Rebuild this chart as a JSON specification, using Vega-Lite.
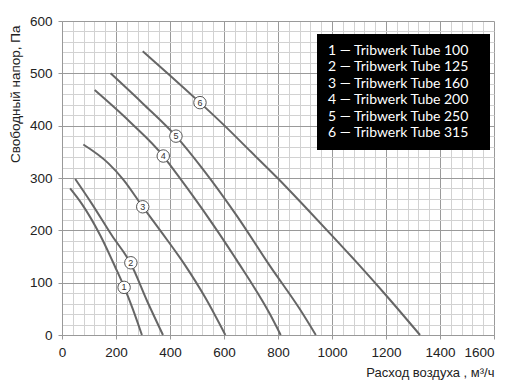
{
  "$schema": "https://vega.github.io/schema/vega-lite/v6.json",
  "autosize": "none",
  "width": 432,
  "height": 314,
  "padding": {"left": 62, "top": 21, "right": 19, "bottom": 56},
  "background": "white",
  "config": {
    "view": {"stroke": null},
    "font": "Liberation Sans"
  },
  "datasets": {
    "curves": [
      {"model": "1 — Tribwerk Tube 100", "flow": 30, "pressure": 280},
      {"model": "1 — Tribwerk Tube 100", "flow": 74, "pressure": 250},
      {"model": "1 — Tribwerk Tube 100", "flow": 142, "pressure": 190},
      {"model": "1 — Tribwerk Tube 100", "flow": 197, "pressure": 130},
      {"model": "1 — Tribwerk Tube 100", "flow": 230, "pressure": 92},
      {"model": "1 — Tribwerk Tube 100", "flow": 262, "pressure": 50},
      {"model": "1 — Tribwerk Tube 100", "flow": 296, "pressure": 0},
      {"model": "2 — Tribwerk Tube 125", "flow": 49, "pressure": 298},
      {"model": "2 — Tribwerk Tube 125", "flow": 109, "pressure": 252},
      {"model": "2 — Tribwerk Tube 125", "flow": 185, "pressure": 190},
      {"model": "2 — Tribwerk Tube 125", "flow": 255, "pressure": 136},
      {"model": "2 — Tribwerk Tube 125", "flow": 316, "pressure": 64},
      {"model": "2 — Tribwerk Tube 125", "flow": 374, "pressure": 0},
      {"model": "3 — Tribwerk Tube 160", "flow": 79, "pressure": 364},
      {"model": "3 — Tribwerk Tube 160", "flow": 172, "pressure": 328},
      {"model": "3 — Tribwerk Tube 160", "flow": 227, "pressure": 297},
      {"model": "3 — Tribwerk Tube 160", "flow": 299, "pressure": 245},
      {"model": "3 — Tribwerk Tube 160", "flow": 369, "pressure": 196},
      {"model": "3 — Tribwerk Tube 160", "flow": 455, "pressure": 134},
      {"model": "3 — Tribwerk Tube 160", "flow": 530, "pressure": 72},
      {"model": "3 — Tribwerk Tube 160", "flow": 605, "pressure": 0},
      {"model": "4 — Tribwerk Tube 200", "flow": 121, "pressure": 468},
      {"model": "4 — Tribwerk Tube 200", "flow": 250, "pressure": 408},
      {"model": "4 — Tribwerk Tube 200", "flow": 375, "pressure": 342},
      {"model": "4 — Tribwerk Tube 200", "flow": 400, "pressure": 325},
      {"model": "4 — Tribwerk Tube 200", "flow": 523, "pressure": 238},
      {"model": "4 — Tribwerk Tube 200", "flow": 647, "pressure": 143},
      {"model": "4 — Tribwerk Tube 200", "flow": 770, "pressure": 40},
      {"model": "4 — Tribwerk Tube 200", "flow": 810, "pressure": 0},
      {"model": "5 — Tribwerk Tube 250", "flow": 180, "pressure": 500},
      {"model": "5 — Tribwerk Tube 250", "flow": 300, "pressure": 442},
      {"model": "5 — Tribwerk Tube 250", "flow": 422, "pressure": 380},
      {"model": "5 — Tribwerk Tube 250", "flow": 523, "pressure": 316},
      {"model": "5 — Tribwerk Tube 250", "flow": 647, "pressure": 228},
      {"model": "5 — Tribwerk Tube 250", "flow": 770, "pressure": 132},
      {"model": "5 — Tribwerk Tube 250", "flow": 880, "pressure": 50},
      {"model": "5 — Tribwerk Tube 250", "flow": 940, "pressure": 0},
      {"model": "6 — Tribwerk Tube 315", "flow": 299, "pressure": 542},
      {"model": "6 — Tribwerk Tube 315", "flow": 400, "pressure": 496},
      {"model": "6 — Tribwerk Tube 315", "flow": 511, "pressure": 444},
      {"model": "6 — Tribwerk Tube 315", "flow": 600, "pressure": 401},
      {"model": "6 — Tribwerk Tube 315", "flow": 700, "pressure": 350},
      {"model": "6 — Tribwerk Tube 315", "flow": 800, "pressure": 299},
      {"model": "6 — Tribwerk Tube 315", "flow": 900, "pressure": 245},
      {"model": "6 — Tribwerk Tube 315", "flow": 1000, "pressure": 190},
      {"model": "6 — Tribwerk Tube 315", "flow": 1100, "pressure": 134},
      {"model": "6 — Tribwerk Tube 315", "flow": 1200, "pressure": 76},
      {"model": "6 — Tribwerk Tube 315", "flow": 1326, "pressure": 0}
    ],
    "markers": [
      {"n": "1", "flow": 230, "pressure": 91},
      {"n": "2", "flow": 255, "pressure": 138},
      {"n": "3", "flow": 299, "pressure": 245},
      {"n": "4", "flow": 375, "pressure": 342},
      {"n": "5", "flow": 422, "pressure": 380},
      {"n": "6", "flow": 511, "pressure": 444}
    ]
  },
  "encoding": {
    "x": {
      "field": "flow", "type": "quantitative",
      "scale": {"domain": [0, 1600], "nice": false, "zero": false},
      "axis": {
        "title": "Расход воздуха , м³/ч",
        "titleAnchor": "end",
        "titleFontSize": 13,
        "titleFontWeight": "normal",
        "titleColor": "#222",
        "titlePadding": 8,
        "tickCount": 100,
        "values": [0,40,80,120,160,200,240,280,320,360,400,440,480,520,560,600,640,680,720,760,800,840,880,920,960,1000,1040,1080,1120,1160,1200,1240,1280,1320,1360,1400,1440,1480,1520,1560,1600],
        "labelExpr": "datum.value % 200 === 0 ? datum.label : ''",
        "format": "d",
        "labelOverlap": false,
        "labelBound": false,
        "labelFontSize": 13.5,
        "labelColor": "#222",
        "labelPadding": 6,
        "labelAlign": {"condition": {"test": "datum.value === 1600", "value": "right"}, "value": "center"},
        "tickSize": 4,
        "tickColor": {"condition": {"test": "datum.value % 200 === 0", "value": "#999"}, "value": "transparent"},
        "domainColor": "#999",
        "grid": true,
        "gridColor": {"condition": {"test": "datum.value % 200 === 0", "value": "#9a9a9a"}, "value": "#d2d2d2"},
        "gridWidth": 1
      }
    },
    "y": {
      "field": "pressure", "type": "quantitative",
      "scale": {"domain": [0, 600], "nice": false},
      "axis": {
        "title": "Свободный  напор, Па",
        "titleAnchor": "end",
        "titleY": 4,
        "titleFontSize": 13.5,
        "titleFontWeight": "normal",
        "titleColor": "#222",
        "titlePadding": 7,
        "tickCount": 100,
        "values": [0,20,40,60,80,100,120,140,160,180,200,220,240,260,280,300,320,340,360,380,400,420,440,460,480,500,520,540,560,580,600],
        "labelExpr": "datum.value % 100 === 0 ? datum.label : ''",
        "labelOverlap": false,
        "labelBound": false,
        "labelFontSize": 13.5,
        "labelColor": "#222",
        "labelPadding": 6,
        "tickSize": 4,
        "tickColor": {"condition": {"test": "datum.value % 100 === 0", "value": "#999"}, "value": "transparent"},
        "domainColor": "#999",
        "grid": true,
        "gridColor": {"condition": {"test": "datum.value % 100 === 0", "value": "#9a9a9a"}, "value": "#d2d2d2"},
        "gridWidth": 1
      }
    }
  },
  "layer": [
    {
      "data": {"name": "curves"},
      "mark": {"type": "line", "interpolate": "monotone", "strokeWidth": 2},
      "encoding": {
        "detail": {"field": "model", "type": "nominal"},
        "color": {
          "field": "model", "type": "nominal",
          "scale": {"range": ["#666666", "#666666", "#666666", "#666666", "#666666", "#666666"]},
          "legend": {
            "title": null,
            "orient": "none",
            "legendX": 255,
            "legendY": 13,
            "fillColor": "black",
            "padding": 10,
            "symbolType": "circle",
            "symbolSize": 1,
            "symbolOpacity": 0,
            "symbolStrokeWidth": 0,
            "labelOffset": -13,
            "labelFont": "Lato",
            "labelFontSize": 14,
            "labelColor": "white",
            "labelLimit": 300,
            "labelExpr": "datum.label + '\u2800'",
            "rowPadding": 2.4
          }
        }
      }
    },
    {
      "data": {"name": "markers"},
      "mark": {"type": "point", "shape": "circle", "filled": true, "fill": "white", "stroke": "#555", "strokeWidth": 1, "size": 155, "opacity": 1}
    },
    {
      "data": {"name": "markers"},
      "mark": {"type": "text", "fontSize": 9, "baseline": "middle", "align": "center", "color": "#333", "font": "Liberation Sans"},
      "encoding": {
        "text": {"field": "n", "type": "nominal"}
      }
    }
  ]
}
